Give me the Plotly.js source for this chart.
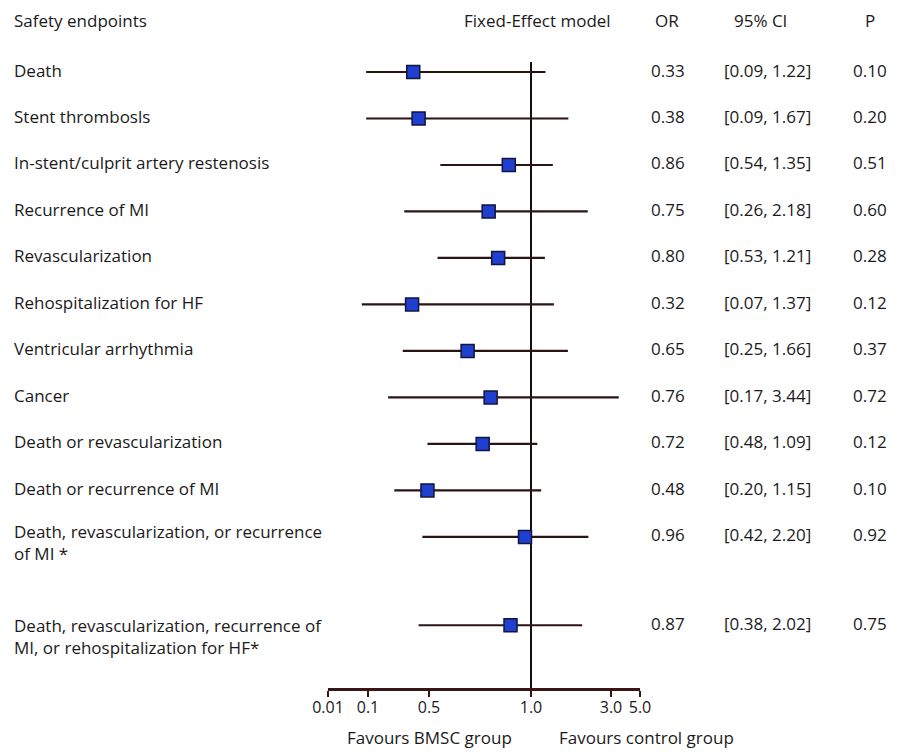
<!DOCTYPE html>
<html>
<head>
<meta charset="utf-8">
<script src="https://cdn.plot.ly/plotly-3.0.1.min.js"></script>
<style>html,body{margin:0;padding:0;background:#fff;}#chart{width:897px;height:752px;}</style>
</head>
<body>
<div id="chart"></div>
<script>
// ---- data ----
const endpoints = [
  'Death',
  'Stent thrombosls',
  'In-stent/culprit artery restenosis',
  'Recurrence of MI',
  'Revascularization',
  'Rehospitalization for HF',
  'Ventricular arrhythmia',
  'Cancer',
  'Death or revascularization',
  'Death or recurrence of MI',
  'Death, revascularization, or recurrence<br>of MI *',
  'Death, revascularization, recurrence of<br>MI, or rehospitalization for HF*'
];
const oddsRatio = [0.33, 0.38, 0.86, 0.75, 0.80, 0.32, 0.65, 0.76, 0.72, 0.48, 0.96, 0.87];
const ciLow     = [0.09, 0.09, 0.54, 0.26, 0.53, 0.07, 0.25, 0.17, 0.48, 0.20, 0.42, 0.38];
const ciHigh    = [1.22, 1.67, 1.35, 2.18, 1.21, 1.37, 1.66, 3.44, 1.09, 1.15, 2.20, 2.02];
const pValues   = ['0.10', '0.20', '0.51', '0.60', '0.28', '0.12', '0.37', '0.72', '0.12', '0.10', '0.92', '0.75'];
const tickValues = [0.01, 0.1, 0.5, 1, 3, 5];
const tickLabels = ['0.01', '0.1', '0.5', '1.0', '3.0', '5.0'];

// ---- axis warp (the reference axis spaces its ticks unevenly) ----
const tickAnchors = [0, 40, 101, 203, 283, 312];
function warp(v) {
  let i = 0;
  while (i < tickValues.length - 2 && v > tickValues[i + 1]) i++;
  const a = tickValues[i], b = tickValues[i + 1];
  const t = Math.log(v / a) / Math.log(b / a);
  return tickAnchors[i] + t * (tickAnchors[i + 1] - tickAnchors[i]);
}

const FONT = '"Open Sans", "Noto Sans", sans-serif';
const TXT = '#1a1a1a';
const FS = 17;
const rowY = endpoints.map((_, i) => i < 11 ? i : i + 0.9);

const xs = oddsRatio.map(warp);
const errPlus = oddsRatio.map((v, i) => warp(ciHigh[i]) - warp(v));
const errMinus = oddsRatio.map((v, i) => warp(v) - warp(ciLow[i]));

const trace = {
  type: 'scatter', mode: 'markers',
  x: xs, y: rowY,
  marker: {symbol: 'square', size: 13, color: '#1e3fd0', line: {color: '#14143c', width: 1.5}},
  error_x: {type: 'data', symmetric: false, array: errPlus, arrayminus: errMinus,
            color: '#2a1414', thickness: 2.2, width: 0},
  hoverinfo: 'skip', showlegend: false
};

const L = 328, W = 312;
const px = p => (p - L) / W;
const annotations = [];
function ann(o) { annotations.push(Object.assign({showarrow: false, font: {family: FONT, size: FS, color: TXT}}, o)); }

// headers
ann({text: 'Safety endpoints', xref: 'paper', yref: 'paper', x: px(12), xanchor: 'left', y: 1, yanchor: 'middle', yshift: 42});
ann({text: 'Fixed-Effect model', xref: 'paper', yref: 'paper', x: px(537), xanchor: 'center', y: 1, yanchor: 'middle', yshift: 42});
ann({text: 'OR', xref: 'paper', yref: 'paper', x: px(667), xanchor: 'center', y: 1, yanchor: 'middle', yshift: 42});
ann({text: '95% CI', xref: 'paper', yref: 'paper', x: px(760), xanchor: 'center', y: 1, yanchor: 'middle', yshift: 42});
ann({text: 'P', xref: 'paper', yref: 'paper', x: px(870), xanchor: 'center', y: 1, yanchor: 'middle', yshift: 42});

endpoints.forEach((name, i) => {
  const multi = name.indexOf('<br>') >= 0;
  ann({text: name, xref: 'paper', yref: 'y', x: px(12), xanchor: 'left', align: 'left',
       y: rowY[i], yanchor: multi ? 'top' : 'middle', yshift: multi ? (i === 10 ? 19 : 13) : 2});
  ann({text: oddsRatio[i].toFixed(2), xref: 'paper', yref: 'y', x: px(668), xanchor: 'center', y: rowY[i], yanchor: 'middle', yshift: 2});
  ann({text: '[' + ciLow[i].toFixed(2) + ', ' + ciHigh[i].toFixed(2) + ']', xref: 'paper', yref: 'y', x: px(722), xanchor: 'left', y: rowY[i], yanchor: 'middle', yshift: 2});
  ann({text: pValues[i], xref: 'paper', yref: 'y', x: px(870), xanchor: 'center', y: rowY[i], yanchor: 'middle', yshift: 2});
});

ann({text: 'Favours BMSC group', xref: 'paper', yref: 'paper', x: px(429), xanchor: 'center', y: 0, yanchor: 'middle', yshift: -49});
ann({text: 'Favours control group', xref: 'paper', yref: 'paper', x: px(646), xanchor: 'center', y: 0, yanchor: 'middle', yshift: -49});

const layout = {
  width: 897, height: 752,
  margin: {l: L, r: 897 - L - W, t: 62, b: 64},
  paper_bgcolor: '#ffffff', plot_bgcolor: '#ffffff',
  font: {family: FONT, size: FS, color: TXT},
  xaxis: {
    range: [0, W], showgrid: false, zeroline: false,
    showline: true, linecolor: '#3a1515', linewidth: 2.5,
    tickmode: 'array', tickvals: tickValues.map(warp), ticktext: tickLabels,
    ticks: 'outside', ticklen: 6, tickwidth: 2, tickcolor: '#3a1515', ticklabelstandoff: -3,
    tickfont: {family: FONT, size: 16, color: TXT}, fixedrange: true
  },
  yaxis: {range: [13.25, -0.215], visible: false, showgrid: false, zeroline: false, fixedrange: true},
  shapes: [{type: 'line', xref: 'x', yref: 'paper', x0: warp(1), x1: warp(1), y0: 0, y1: 1,
            line: {color: '#1a0f0f', width: 2}, layer: 'below'}],
  annotations: annotations
};

Plotly.newPlot('chart', [trace], layout, {staticPlot: true, displayModeBar: false});
</script>
</body>
</html>
